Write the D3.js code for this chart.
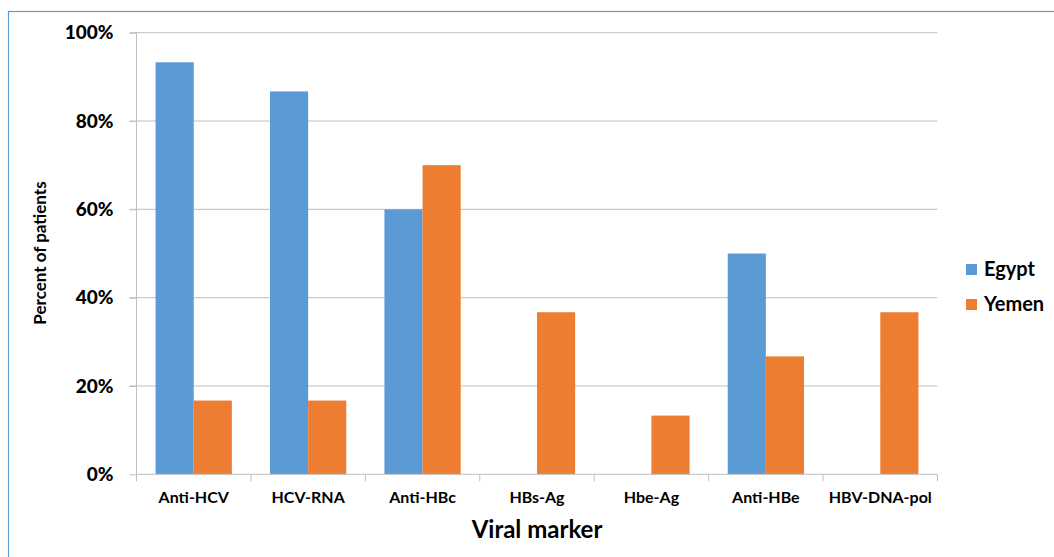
<!DOCTYPE html>
<html><head><meta charset="utf-8">
<script src="https://cdn.jsdelivr.net/npm/d3@7"></script>
<style>body{margin:0;background:#fff}svg{display:block}text{font-family:Lato,"Open Sans",sans-serif;fill:#000}</style>
</head><body><svg id="c" width="1054" height="557"></svg>
<script>
const categories = ["Anti-HCV","HCV-RNA","Anti-HBc","HBs-Ag","Hbe-Ag","Anti-HBe","HBV-DNA-pol"];
const seriesNames = ["Egypt","Yemen"];
const egypt = [93.3, 86.7, 60, 0, 0, 50, 0];
const yemen = [16.7, 16.7, 70, 36.7, 13.3, 26.7, 36.7];
const yTicks = [0, 20, 40, 60, 80, 100];
const colors = ["#5B9BD5", "#ED7D31"];

const svg = d3.select("#c");
svg.append("rect").attr("x",8.5).attr("y",11.5).attr("width",1060).attr("height",560)
  .attr("fill","none").attr("stroke","#5B9BD5").attr("stroke-width",1.2);

const L=136.5, R=937.5, T=32.7, B=474.3;
const x = d3.scaleBand().domain(categories).range([L,R]).paddingInner(1/3).paddingOuter(1/6);
const xs = d3.scaleBand().domain(seriesNames).range([0,x.bandwidth()]);
const y = d3.scaleLinear().domain([0,100]).range([B,T]);

svg.append("g").selectAll("line").data(yTicks.filter(d=>d>0)).join("line")
  .attr("x1",L-7).attr("x2",R).attr("y1",d=>y(d)).attr("y2",d=>y(d))
  .attr("stroke","#BFBFBF").attr("stroke-width",1);

const data = [egypt, yemen];
data.forEach((vals,si)=>{
  svg.append("g").selectAll("rect").data(vals).join("rect")
    .attr("x",(d,i)=>x(categories[i])+xs(seriesNames[si]))
    .attr("width",xs.bandwidth())
    .attr("y",d=>y(d)).attr("height",d=>B-y(d))
    .attr("fill",colors[si]);
});

const ya = svg.append("g").attr("transform",`translate(${L},0)`)
  .call(d3.axisLeft(y).tickValues(yTicks).tickFormat(d=>d+"%").tickSize(7).tickPadding(16));
ya.select(".domain").attr("stroke","#BFBFBF").attr("d",`M0,${T}V${B}`);
ya.selectAll(".tick line").attr("stroke","#BFBFBF");
ya.selectAll("text").style("font-size","19px").style("font-weight","900").attr("font-family","Lato,sans-serif").attr("fill","#111");

const xa = svg.append("g").attr("transform",`translate(0,${B})`)
  .call(d3.axisBottom(x).tickSize(0).tickPadding(17));
xa.select(".domain").attr("stroke","#BFBFBF").attr("d",`M${L},0H${R}`);
xa.selectAll("text").style("font-size","16px").style("font-weight","bold").attr("font-family","Lato,sans-serif").attr("fill","#111");
const bounds = [L].concat(categories.map(c=>x(c)+x.bandwidth()+x.step()*x.paddingInner()/2));
bounds[bounds.length-1]=R;
svg.append("g").selectAll("line").data(bounds).join("line")
  .attr("x1",d=>d).attr("x2",d=>d).attr("y1",B).attr("y2",B+7).attr("stroke","#BFBFBF");

svg.append("text").attr("x",537).attr("y",538).attr("text-anchor","middle")
  .style("font-size","24px").style("font-weight","bold").text("Viral marker");
svg.append("text").attr("transform","translate(46,253) rotate(-90)").attr("text-anchor","middle")
  .style("font-size","17px").style("font-weight","bold").text("Percent of patients");

const lg = svg.append("g").selectAll("g").data(seriesNames).join("g")
  .attr("transform",(d,i)=>`translate(966,${264+i*35})`);
lg.append("rect").attr("width",11).attr("height",11).attr("fill",(d,i)=>colors[i]);
lg.append("text").attr("x",18).attr("y",12).style("font-size","20px").style("font-weight","bold").text(d=>d);
</script></body></html>
